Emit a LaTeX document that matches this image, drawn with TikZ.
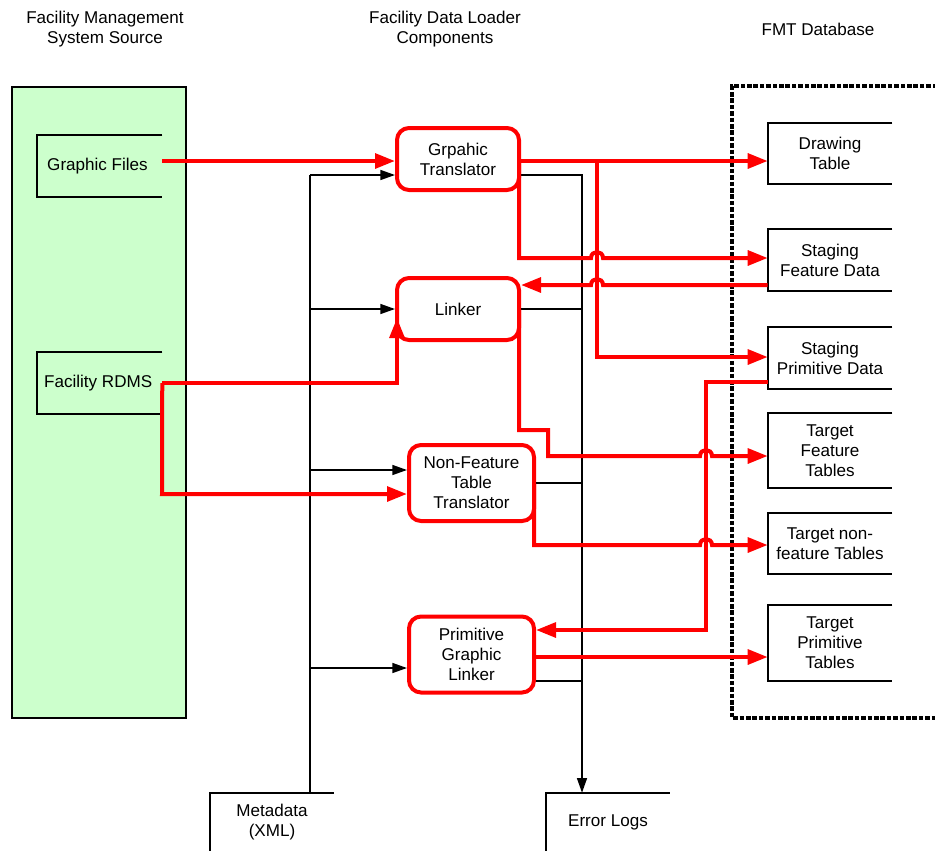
\documentclass[tikz,border=0pt]{standalone}
\usepackage{fontspec}
\setmainfont{Liberation Sans}
\usetikzlibrary{arrows.meta}
\definecolor{srcgreen}{HTML}{CCFFCC}
\definecolor{fred}{HTML}{FF0000}
\begin{document}
\begin{tikzpicture}[x=0.75pt,y=-0.75pt,
  every node/.style={font=\fontsize{12.8}{15}\selectfont, align=center, inner sep=0pt},
  comp/.style={draw=fred, line width=3pt, rounded corners=9pt, fill=white},
  openline/.style={line width=1.5pt, black},
  dbborder/.style={line width=3.2pt, dash pattern=on 3.5pt off 1.3pt},
  redarrow/.style={draw=fred, line width=3pt, -{Triangle[length=15pt,width=11pt]}},
  blkarrow/.style={line width=1.1pt, -{Triangle[length=11pt,width=7.5pt]}},
  blkplain/.style={line width=1.1pt},
]
\useasboundingbox (0,0) rectangle (935,850);

% source container
\node[draw, fill=srcgreen, line width=1.5pt, minimum width=130.5pt, minimum height=473.25pt] (src) at (99,402.5) {};

% headers
\node (h1) at (105,29) {Facility Management\\System Source};
\node (h2) at (445,29) {Facility Data Loader\\Components};
\node (h3) at (818,29) {FMT Database};

% database border
\draw[dbborder] (950,86) -- (732,86) -- (732,718) -- (950,718);

% source open boxes
\node[minimum width=93.75pt, minimum height=46.5pt] (gf) at (99.5,166) {\hspace*{-3pt}Graphic Files};
\node[minimum width=93.75pt, minimum height=46.5pt] (rdms) at (99.5,383) {\hspace*{-2pt}Facility RDMS};
\foreach \n in {gf,rdms}
  \draw[openline] (\n.north east) -- (\n.north west) -- (\n.south west) -- (\n.south east);

% components
\node[comp, minimum width=91.5pt, minimum height=46.5pt] (gt) at (458,159) {Grpahic\\Translator};
\node[comp, minimum width=91.5pt, minimum height=46.5pt] (lk) at (458,309) {Linker};
\node[comp, minimum width=93.75pt, minimum height=57pt] (nft) at (471.5,483) {Non-Feature\\Table\\Translator};
\node[comp, minimum width=93.75pt, minimum height=57pt] (pgl) at (471.5,654.5) {Primitive\\Graphic\\Linker};

% database tables
\node[minimum width=93pt, minimum height=45.75pt] (dt) at (830,153.5) {Drawing\\Table};
\node[minimum width=93pt, minimum height=46.5pt] (sfd) at (830,260) {Staging\\Feature Data};
\node[minimum width=93pt, minimum height=46.5pt] (spd) at (830,358) {Staging\\Primitive Data};
\node[minimum width=93pt, minimum height=56.25pt] (tft) at (830,450.5) {Target\\Feature\\Tables};
\node[minimum width=93pt, minimum height=45.75pt] (tnt) at (830,543.5) {Target non-\\feature Tables};
\node[minimum width=93pt, minimum height=57pt] (tpt) at (830,643) {Target\\Primitive\\Tables};
\foreach \n in {dt,sfd,spd,tft,tnt,tpt}
  \draw[openline] (\n.north east) -- (\n.north west) -- (\n.south west) -- (\n.south east);

% bottom boxes
\node[minimum width=93pt, minimum height=43.5pt] (meta) at (272,822) {Metadata\\(XML)};
\node[minimum width=93pt, minimum height=43.5pt] (err) at (608,822) {Error Logs};
\foreach \n in {meta,err}
  \draw[openline] (\n.south west) -- (\n.north west) -- (\n.north east);

% metadata bus
\coordinate (mtop) at (310,175);
\draw[blkplain] (meta.north -| 310,0) -- (mtop);
\draw[blkarrow] (mtop) -- (gt.west |- 0,175);
\draw[blkarrow] (310,309) -- (lk.west |- 0,309);
\draw[blkarrow] (310,470) -- (nft.west |- 0,470);
\draw[blkarrow] (310,668) -- (pgl.west |- 0,668);

% error bus
\coordinate (etop) at (582,175);
\draw[blkarrow] (gt.east |- 0,175) -- (etop) -- (err.north -| 582,0);
\draw[blkplain] (lk.east |- 0,309) -- (582,309);
\draw[blkplain] (nft.east |- 0,483) -- (582,483);
\draw[blkplain] (pgl.east |- 0,681) -- (582,681);

% red data flows
\coordinate (split) at (597,161);
\draw[redarrow] (gf.east |- 0,161) -- (gt.west |- 0,161);
\draw[redarrow] (gt.east |- 0,161) -- (dt.west |- 0,161);
\draw[redarrow] (split) -- (597,357) -- (spd.west |- 0,357);
\draw[redarrow] (519,161) -- (519,258) -- (591,258) .. controls (591,250) and (603,250) .. (603,258) -- (sfd.west |- 0,258);
\draw[redarrow] (sfd.west |- 0,285) -- (603,285) .. controls (603,277) and (591,277) .. (591,285) -- (lk.east |- 0,285);
\draw[redarrow] (519,309) -- (519,430) -- (548,430) -- (548,456) -- (700,456) .. controls (700,448) and (712,448) .. (712,456) -- (tft.west |- 0,456);
\draw[redarrow] (spd.west |- 0,382) -- (706,382) -- (706,630) -- (pgl.east |- 0,630);
\draw[redarrow] (rdms.east) -- (397,383) -- (397,318);
\draw[redarrow] (rdms.east) -- (162,494) -- (nft.west |- 0,494);
\draw[redarrow] (534,483) -- (534,545) -- (700,545) .. controls (700,537) and (712,537) .. (712,545) -- (tnt.west |- 0,545);
\draw[redarrow] (pgl.east |- 0,657) -- (tpt.west |- 0,657);
\end{tikzpicture}
\end{document}
